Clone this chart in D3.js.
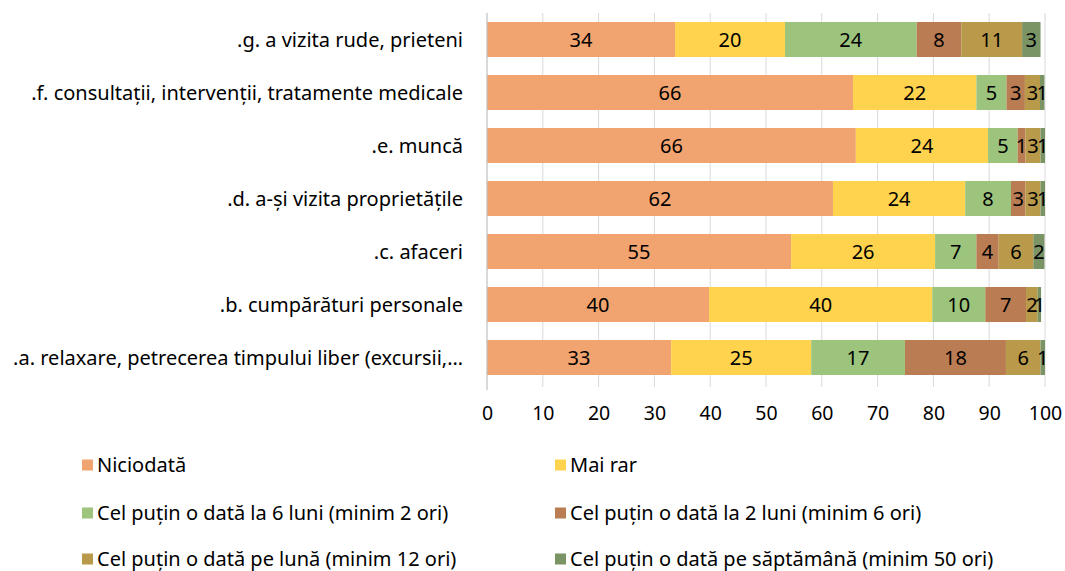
<!DOCTYPE html>
<html>
<head>
<meta charset="utf-8">
<script src="https://cdn.jsdelivr.net/npm/d3@7"></script>
<style>
  body { margin: 0; background: #fff; }
  text { font-family: "Noto Sans", sans-serif; fill: #000; }
</style>
</head>
<body>
<svg id="chart"></svg>
<script>
// categories, top to bottom
const categories = [
  ".g. a vizita rude, prieteni",
  ".f. consultații, intervenții, tratamente medicale",
  ".e. muncă",
  ".d. a-și vizita proprietățile",
  ".c. afaceri",
  ".b. cumpărături personale",
  ".a. relaxare, petrecerea timpului liber (excursii,…"
];

const seriesNames = [
  "Niciodată",
  "Mai rar",
  "Cel puțin o dată la 6 luni (minim 2 ori)",
  "Cel puțin o dată la 2 luni (minim 6 ori)",
  "Cel puțin o dată pe lună (minim 12 ori)",
  "Cel puțin o dată pe săptămână (minim 50 ori)"
];
const colors = ["#F1A46F", "#FFD34D", "#9CC47C", "#BA7C52", "#B89A4A", "#7A9466"];

// values per series, same order as categories
const niciodata = [33.7, 65.6, 66.1, 62.0, 54.5, 39.8, 33.0];
const maiRar    = [19.7, 22.1, 23.7, 23.7, 25.8, 40.0, 25.1];
const luni6     = [23.6, 5.4, 5.3, 8.2, 7.4, 9.5, 16.8];
const luni2     = [8.0, 3.3, 1.4, 2.6, 4.0, 7.3, 18.1];
const lunar     = [10.9, 2.7, 2.7, 2.7, 6.2, 2.1, 6.2];
const saptamana = [3.3, 0.8, 0.8, 0.8, 2.0, 0.6, 0.8];
const series = [niciodata, maiRar, luni6, luni2, lunar, saptamana];

const xTicks = [0, 10, 20, 30, 40, 50, 60, 70, 80, 90, 100];

const width = 1065, height = 571;
const margin = {top: 13, left: 487, right: 20, bottom: 187};

const svg = d3.select("#chart")
  .attr("width", width)
  .attr("height", height);

const x = d3.scaleLinear()
  .domain([0, 100])
  .range([margin.left, 1045]);

const y = d3.scaleBand()
  .domain(categories)
  .range([margin.top, height - margin.bottom])
  .paddingInner(0.34)
  .paddingOuter(0.17);

// gridlines
svg.append("g")
  .selectAll("line")
  .data(xTicks.slice(1))
  .enter().append("line")
  .attr("x1", d => x(d)).attr("x2", d => x(d))
  .attr("y1", margin.top).attr("y2", height - margin.bottom + 3)
  .attr("stroke", "#d9d9d9")
  .attr("stroke-width", 1);

// stacked data
const rows = categories.map((c, i) => {
  let acc = 0;
  return series.map((s, k) => {
    const seg = {cat: c, k: k, v: s[i], x0: acc, x1: acc + s[i]};
    acc += s[i];
    return seg;
  });
});

const rowG = svg.append("g")
  .selectAll("g")
  .data(rows)
  .enter().append("g");

rowG.selectAll("rect")
  .data(d => d)
  .enter().append("rect")
  .attr("x", d => x(d.x0))
  .attr("y", d => y(d.cat))
  .attr("width", d => x(d.x1) - x(d.x0))
  .attr("height", y.bandwidth())
  .attr("fill", d => colors[d.k]);

rowG.selectAll("text")
  .data(d => d)
  .enter().append("text")
  .attr("x", d => (x(d.x0) + x(d.x1)) / 2)
  .attr("y", d => y(d.cat) + y.bandwidth() / 2)
  .attr("dy", "0.36em")
  .attr("text-anchor", "middle")
  .style("font-size", "20px")
  .text(d => Math.round(d.v));

// left axis line
svg.append("line")
  .attr("x1", x(0)).attr("x2", x(0))
  .attr("y1", margin.top).attr("y2", height - margin.bottom + 6)
  .attr("stroke", "#bfbfbf")
  .attr("stroke-width", 1.2);

// category labels
svg.append("g")
  .selectAll("text")
  .data(categories)
  .enter().append("text")
  .attr("x", 463)
  .attr("y", d => y(d) + y.bandwidth() / 2)
  .attr("dy", "0.36em")
  .attr("text-anchor", "end")
  .style("font-size", "20px")
  .text(d => d);

// x tick labels
const xAxis = d3.axisBottom(x).tickValues(xTicks).tickSize(0).tickPadding(0);
const xg = svg.append("g")
  .attr("transform", `translate(0,${height - margin.bottom})`)
  .call(xAxis);
xg.select(".domain").remove();
xg.selectAll("text")
  .attr("y", 36)
  .attr("dy", "0")
  .style("font-size", "19.5px")
  .style("font-family", "'Noto Sans', sans-serif")
  .attr("fill", "#000");

// legend
const legendX = [82, 555];
const legendY = [465, 513, 559];
const lg = svg.append("g")
  .selectAll("g")
  .data(seriesNames)
  .enter().append("g")
  .attr("transform", (d, i) => `translate(${legendX[i % 2]},${legendY[Math.floor(i / 2)]})`);
lg.append("rect")
  .attr("x", 0).attr("y", -5.5)
  .attr("width", 11).attr("height", 11)
  .attr("fill", (d, i) => colors[i]);
lg.append("text")
  .attr("x", 15)
  .attr("dy", "0.36em")
  .style("font-size", "20px")
  .text(d => d);
</script>
</body>
</html>
